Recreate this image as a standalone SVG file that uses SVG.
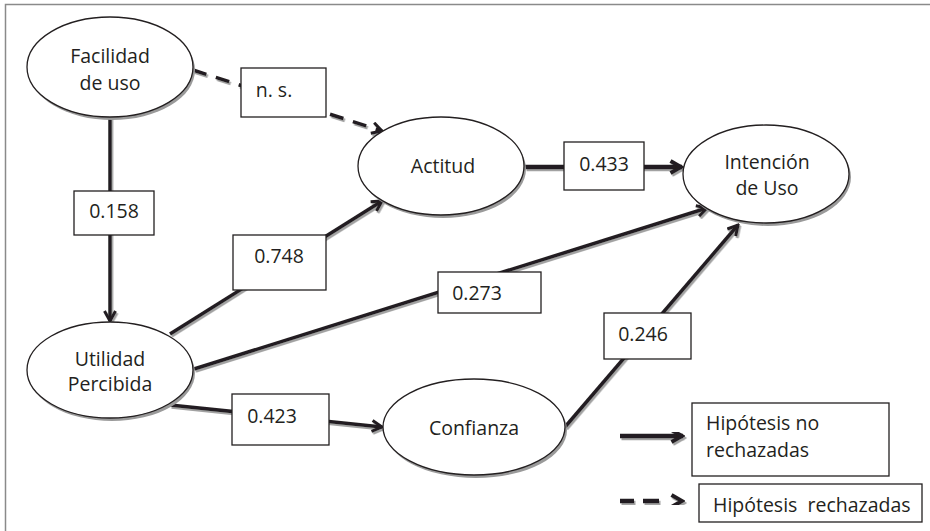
<svg xmlns="http://www.w3.org/2000/svg" width="930" height="531" viewBox="0 0 930 531">
<style>
text{font-family:"Open Sans","Liberation Sans",sans-serif;font-size:19.5px;fill:#231f20;white-space:pre}
.node text{text-anchor:middle}
.lbl text{text-anchor:middle}
.sh{fill:#9a9a9a}
.el{fill:#fff;stroke:#231f20;stroke-width:1.3}
.box{fill:#fff;stroke:#231f20;stroke-width:1.3}
.c{fill:none;stroke:#231f20;stroke-width:3.5}
.d{stroke-dasharray:14 10}
.w{stroke-width:4.5}
</style>
<defs>
<marker id="ah" viewBox="0 0 14 14" refX="12" refY="7" markerWidth="14" markerHeight="14" markerUnits="userSpaceOnUse" orient="auto">
<path d="M2,1.5 L12,7 L2,12.5" fill="none" stroke="#231f20" stroke-width="3" stroke-dasharray="none"/>
</marker>
<marker id="ahb" viewBox="0 0 16 16" refX="14" refY="8" markerWidth="16" markerHeight="16" markerUnits="userSpaceOnUse" orient="auto">
<path d="M2.5,2 L13,8 L2.5,14" fill="none" stroke="#231f20" stroke-width="4" stroke-dasharray="none"/>
</marker>
<filter id="ds" x="-5%" y="-5%" width="110%" height="110%">
<feDropShadow dx="1.5" dy="2" stdDeviation="0.6" flood-color="#8a8a8a" flood-opacity="0.8"/>
</filter>
</defs>
<rect width="930" height="531" fill="#fff"/>
<path d="M5.5,531 V4.5 H930" fill="none" stroke="#8a8a8a" stroke-width="1.5"/>

<g id="connectors" filter="url(#ds)">
<line class="c" x1="110" y1="117" x2="110" y2="321" marker-end="url(#ah)"/>
<line class="c d" x1="193" y1="70" x2="382" y2="131" marker-end="url(#ah)"/>
<line class="c" x1="170" y1="334" x2="382" y2="201" marker-end="url(#ah)"/>
<line class="c w" x1="525" y1="167" x2="682" y2="167" marker-end="url(#ahb)"/>
<line class="c" x1="194" y1="369" x2="707" y2="208" marker-end="url(#ah)"/>
<line class="c" x1="170" y1="405" x2="382" y2="427" marker-end="url(#ah)"/>
<line class="c" x1="565" y1="427" x2="738" y2="225" marker-end="url(#ah)"/>
</g>

<g id="labels" class="lbl">
<rect class="box" x="74" y="191" width="80" height="44"/><text x="114" y="218">0.158</text>
<rect class="box" x="241" y="68" width="85" height="49"/><text x="274" y="97">n. s.</text>
<rect class="box" x="233" y="235" width="93" height="55"/><text x="279" y="263">0.748</text>
<rect class="box" x="564" y="142" width="80" height="48"/><text x="604" y="171">0.433</text>
<rect class="box" x="438" y="272" width="103" height="41"/><text x="477" y="300">0.273</text>
<rect class="box" x="604" y="313" width="87" height="46"/><text x="643" y="341">0.246</text>
<rect class="box" x="232" y="394" width="97" height="51"/><text x="272" y="423">0.423</text>
</g>

<g id="facilidad" class="node">
<ellipse class="sh" cx="112" cy="70" rx="83" ry="50"/>
<ellipse class="el" cx="110" cy="67" rx="83" ry="50"/>
<text x="110" y="63">Facilidad</text><text x="110" y="90">de uso</text>
</g>
<g id="actitud" class="node">
<ellipse class="sh" cx="443" cy="169" rx="83" ry="49"/>
<ellipse class="el" cx="441" cy="166" rx="83" ry="49"/>
<text x="443" y="173">Actitud</text>
</g>
<g id="intencion" class="node">
<ellipse class="sh" cx="768" cy="177" rx="83" ry="49"/>
<ellipse class="el" cx="766" cy="174" rx="83" ry="49"/>
<text x="767" y="169">Intención</text><text x="767" y="195">de Uso</text>
</g>
<g id="utilidad" class="node">
<ellipse class="sh" cx="112" cy="373" rx="83" ry="48"/>
<ellipse class="el" cx="110" cy="370" rx="83" ry="48"/>
<text x="110" y="366">Utilidad</text><text x="110" y="391">Percibida</text>
</g>
<g id="confianza" class="node">
<ellipse class="sh" cx="476" cy="430" rx="91" ry="48"/>
<ellipse class="el" cx="474" cy="427" rx="91" ry="48"/>
<text x="474" y="435">Confianza</text>
</g>

<g id="legend">
<g filter="url(#ds)">
<line class="c w" x1="620" y1="436" x2="683" y2="436" marker-end="url(#ahb)"/>
<line class="c w" x1="620" y1="501" x2="683" y2="501" stroke-dasharray="14 9 16 40" marker-end="url(#ahb)"/>
</g>
<rect class="box" x="692" y="403" width="197" height="73"/>
<text x="706" y="430">Hipótesis no</text><text x="706" y="457">rechazadas</text>
<rect class="box" x="699" y="484" width="223" height="38"/>
<text x="713" y="512">Hipótesis  rechazadas</text>
</g>
</svg>
